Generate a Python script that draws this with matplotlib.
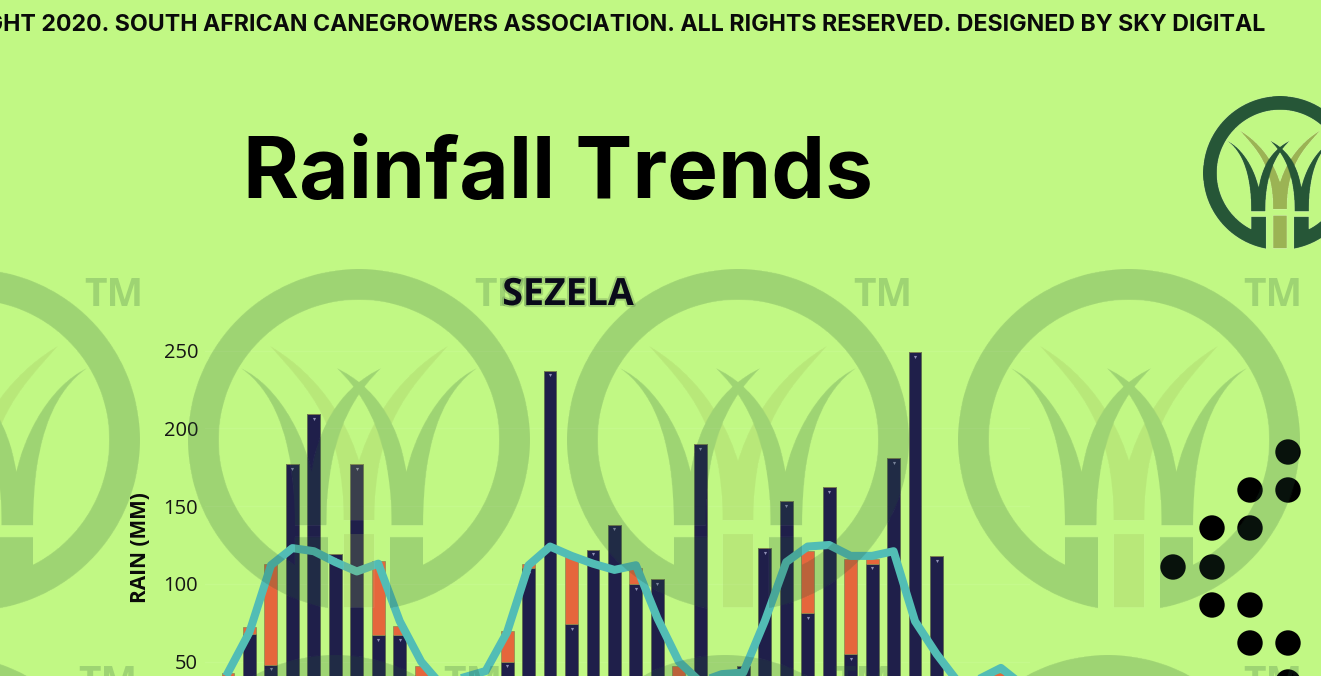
import numpy as np
import matplotlib
matplotlib.use('Agg')
import matplotlib.pyplot as plt
import matplotlib.patheffects as pe
from matplotlib.backends.backend_agg import FigureCanvasAgg
from matplotlib.figure import Figure
from matplotlib.patches import Circle, PathPatch, Polygon
from matplotlib.path import Path

# monthly rain, mm (values under the bottom edge are guesses)
months = np.arange(38)
rain_dark = [35, 68, 48, 177, 209, 119, 177, 67, 67, 30, 20, 20, 20,
             50, 110, 237, 74, 122, 138, 100, 103, 30, 190, 20, 47,
             123, 153, 81, 162, 55, 113, 181, 249, 118, 20, 20, 30, 20]
rain_orange = [8, 4, 65, 0, 0, 0, 0, 48, 6, 17, 0, 0, 0,
               20, 3, 0, 44, 0, 0, 10, 0, 17, 0, 0, 0,
               0, 0, 40, 0, 61, 3, 0, 0, 0, 0, 0, 13, 0]
rain_trend = [43, 69, 112, 123, 121, 114, 108, 113, 76, 50, 34, 40, 44,
              69, 112, 124, 118, 113, 109, 112, 78, 50, 37, 42, 43,
              76, 114, 124, 125, 118, 118, 121, 76, 55, 37, 39, 46, 35]
y_ticks = [50, 100, 150, 200, 250]

title = 'Rainfall Trends'
footer = ('COPYRIGHT 2020. SOUTH AFRICAN CANEGROWERS ASSOCIATION. '
          'ALL RIGHTS RESERVED. DESIGNED BY SKY DIGITAL')

BG = '#C1F884'
DARK_GREEN = '#265637'
OLIVE = '#9BB354'
W, H = 1321, 676


def logo_image():
    # draw the logo once, flat, so the watermark has no double alpha on overlaps
    f = Figure(figsize=(4, 4), dpi=100)
    canvas = FigureCanvasAgg(f)
    f.patch.set_alpha(0)
    a = f.add_axes([0, 0, 1, 1])
    a.set_xlim(-1, 1)
    a.set_ylim(-1, 1)
    a.axis('off')

    C4 = Path.CURVE4
    olive = [(-0.52, 0.55), (-0.3, 0.42), (-0.1, 0.2), (0, -0.12),
             (0.1, 0.2), (0.3, 0.42), (0.52, 0.55),
             (0.3, 0.3), (0.09, 0.1), (0.09, -0.47),
             (-0.09, -0.47), (-0.09, 0.1), (-0.3, 0.3), (-0.52, 0.55)]
    codes = [Path.MOVETO] + [C4] * 9 + [Path.LINETO] + [C4] * 3
    a.add_patch(PathPatch(Path(olive, codes), fc=OLIVE, lw=0))
    a.add_patch(Polygon([(-0.09, -0.55), (0.09, -0.55), (0.09, -0.98), (-0.09, -0.98)],
                        fc=OLIVE, lw=0))

    # ring, open at the bottom between x=-0.18 and x=0.18
    cut_o = np.arcsin(0.18 / 1.0)
    cut_i = np.arcsin(0.18 / 0.82)
    t_o = np.linspace(-np.pi / 2 + cut_o, 3 * np.pi / 2 - cut_o, 200)
    t_i = np.linspace(3 * np.pi / 2 - cut_i, -np.pi / 2 + cut_i, 200)
    ring = np.vstack([np.c_[np.cos(t_o), np.sin(t_o)],
                      np.c_[0.82 * np.cos(t_i), 0.82 * np.sin(t_i)]])
    a.add_patch(Polygon(ring, fc=DARK_GREEN, lw=0))

    for s in (-1, 1):
        blade = [(-0.69, 0.42), (-0.52, 0.30), (-0.375, 0.05), (-0.375, -0.5),
                 (-0.19, -0.5), (-0.19, -0.1), (-0.1, 0.2), (0.13, 0.42),
                 (-0.08, 0.32), (-0.23, 0.12), (-0.277, -0.185),
                 (-0.33, 0.05), (-0.48, 0.32), (-0.69, 0.42)]
        codes = [Path.MOVETO] + [C4] * 3 + [Path.LINETO] + [C4] * 9
        pts = [(s * x, y) for x, y in blade]
        a.add_patch(PathPatch(Path(pts, codes), fc=DARK_GREEN, lw=0))
        block = [(-0.375, -0.567), (-0.18, -0.567), (-0.18, -0.9), (-0.375, -0.8)]
        a.add_patch(Polygon([(s * x, y) for x, y in block], fc=DARK_GREEN, lw=0))

    canvas.draw()
    return np.asarray(canvas.buffer_rgba()).copy()


fig = plt.figure(figsize=(W / 100, H / 100), dpi=100, facecolor=BG)

# back layer, pixel coordinates
back = fig.add_axes([0, 0, 1, 1], zorder=0)
back.set_xlim(0, W)
back.set_ylim(H, 0)
back.axis('off')

# chart layer: x=0 month sits at 228px, 21.47px per month, 0mm at 739.5px, 1.556px per mm
px_month, px_mm = 21.47, 1.556
left, right, top, bottom = 205, 1030, 336, 739.5
ax = fig.add_axes([left / W, (H - bottom) / H, (right - left) / W, (bottom - top) / H], zorder=1)
ax.patch.set_alpha(0)
ax.set_xlim((left - 228) / px_month, (right - 228) / px_month)
ax.set_ylim(0, (bottom - top) / px_mm)

ax.bar(months, rain_dark, width=0.6, color='#1F1F4A', edgecolor='#5F7050', linewidth=0.7, zorder=2)
ax.bar(months, rain_orange, width=0.6, bottom=rain_dark, color='#E5663C',
       edgecolor='#8A8A50', linewidth=0.5, zorder=2)
ax.scatter(months, np.array(rain_dark) - 3, marker='v', s=5, color='#8F8FB5', linewidths=0, zorder=3)
ax.plot(months, rain_trend, color='#52BDB5', lw=5.8, solid_joinstyle='round', zorder=4)

ax.set_yticks(y_ticks)
ax.set_xticks([])
ax.tick_params(axis='y', length=0, pad=5, labelsize=14.5, labelcolor='#151515')
for lab in ax.get_yticklabels():
    lab.set_family('Open Sans')
ax.grid(axis='y', color='#C5F98C', lw=1, zorder=0)
ax.set_axisbelow(True)
for sp in ax.spines.values():
    sp.set_visible(False)

# top layer, the watermark lies over the chart
front = fig.add_axes([0, 0, 1, 1], zorder=2)
front.patch.set_alpha(0)
front.axis('off')

logo = logo_image()
for cx, cy, r in [(-31, 440, 171), (359, 440, 171), (738, 440, 171), (1129, 440, 171),
                  (-55, 826, 171), (335, 826, 171), (725, 826, 171), (1108, 826, 171)]:
    front.imshow(logo, extent=(cx - r, cx + r, cy + r, cy - r), alpha=0.22, aspect='auto', zorder=1)
for x, y in [(84, 295), (474, 295), (853, 295), (1243, 295), (78, 684), (443, 684), (833, 684), (1243, 684)]:
    front.text(x, y, 'TM', fontsize=28, fontweight='bold', family='Open Sans', color=DARK_GREEN,
               alpha=0.22, ha='left', va='center', zorder=1)
front.set_xlim(0, W)
front.set_ylim(H, 0)

back.imshow(logo, extent=(1280 - 77, 1280 + 77, 173 + 77, 173 - 77), aspect='auto', zorder=2)
back.set_xlim(0, W)
back.set_ylim(H, 0)

for x, y in [(1288, 452), (1250, 490), (1288, 490), (1212, 528), (1250, 528), (1173, 567),
             (1212, 567), (1212, 605), (1250, 605), (1250, 643), (1288, 643), (1288, 682)]:
    back.add_patch(Circle((x, y), 12.7, fc='black', lw=0, zorder=2))

back.text(243, 175, title, fontsize=61.5, fontweight='bold', family='Inter', color='black',
          ha='left', va='center')
back.text(1265, 25, footer, fontsize=16.7, fontweight='bold', family='Inter', color='#0A0A0A',
          ha='right', va='center')

blur = [pe.withStroke(linewidth=3, foreground='#5A7A50', alpha=0.3)]
front.text(568, 295, 'SEZELA', fontsize=27, fontweight='bold', family='Open Sans', color='#0A0A1A',
           ha='center', va='center', path_effects=blur, zorder=3)
front.text(140, 548, 'RAIN (MM)', fontsize=15, fontweight='bold', family='Open Sans', color='#0A0A0A',
           rotation=90, ha='center', va='center', zorder=3)

fig.savefig('out.png', dpi=100, facecolor=BG)
